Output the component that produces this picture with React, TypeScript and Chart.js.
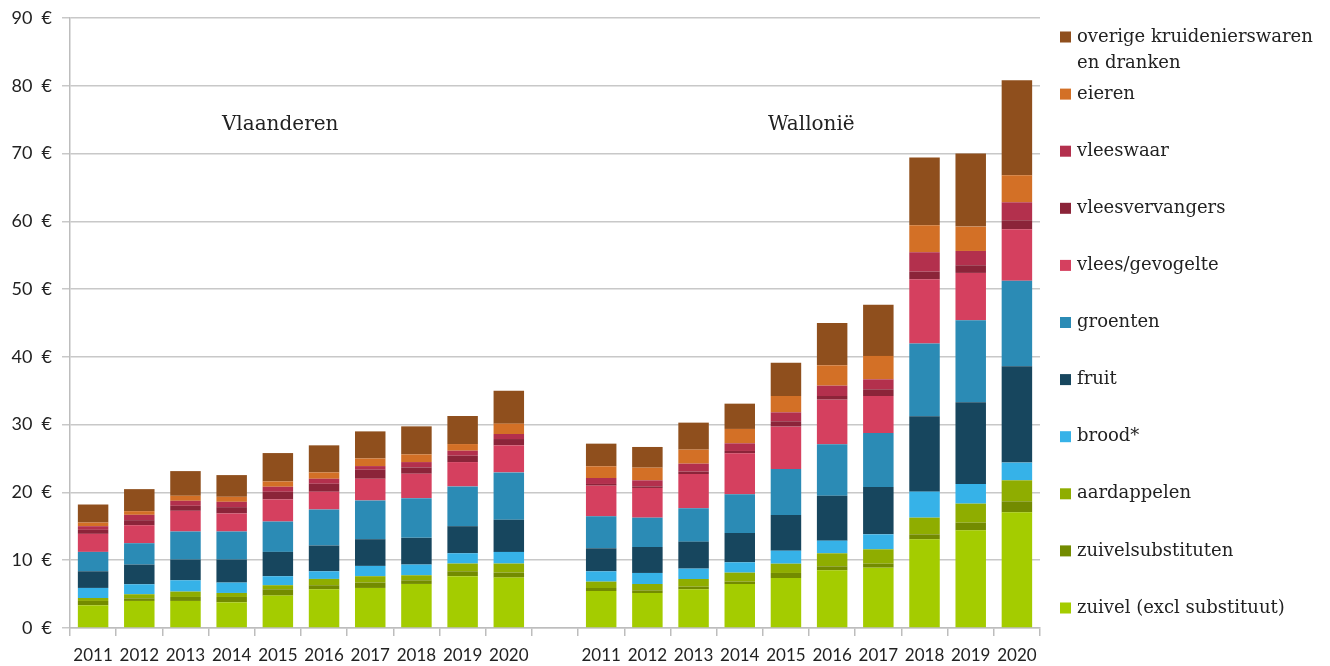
import React, { useEffect, useRef } from "react";
import { Chart, registerables } from "chart.js";

Chart.register(...registerables);

const categories = [
  "2011", "2012", "2013", "2014", "2015", "2016", "2017", "2018", "2019", "2020",
  "",
  "2011", "2012", "2013", "2014", "2015", "2016", "2017", "2018", "2019", "2020",
];

const regionLabels = ["Vlaanderen", "Wallonië"];

const zuivel = [3.35, 3.99, 3.99, 3.79, 4.78, 5.71, 5.91, 6.5, 7.64, 7.44, null, 5.46, 5.16, 5.71, 6.49, 7.38, 8.51, 8.9, 13.08, 14.41, 17.07];
const zuivelsubstituten = [0.64, 0.39, 0.59, 0.79, 0.93, 0.6, 0.79, 0.54, 0.73, 0.74, null, 0.44, 0.4, 0.39, 0.35, 0.74, 0.59, 0.59, 0.74, 1.13, 1.62];
const aardappelen = [0.44, 0.6, 0.79, 0.59, 0.6, 0.93, 0.94, 0.74, 1.14, 1.33, null, 0.94, 0.93, 1.13, 1.33, 1.37, 1.92, 2.12, 2.46, 2.81, 3.1];
const brood = [1.48, 1.47, 1.67, 1.53, 1.33, 1.13, 1.52, 1.58, 1.52, 1.72, null, 1.52, 1.63, 1.53, 1.52, 1.92, 1.87, 2.21, 3.84, 2.9, 2.61];
const fruit = [2.46, 2.91, 3.06, 3.4, 3.59, 3.8, 3.94, 3.94, 3.99, 4.73, null, 3.4, 3.83, 3.98, 4.33, 5.26, 6.64, 6.99, 11.11, 12.05, 14.21];
const groenten = [2.86, 3.15, 4.14, 4.14, 4.48, 5.32, 5.72, 5.86, 5.87, 7.0, null, 4.72, 4.33, 4.92, 5.7, 6.79, 7.57, 7.96, 10.73, 12.1, 12.64];
const vleesGevogelte = [2.66, 2.66, 3.05, 2.66, 3.26, 2.61, 3.2, 3.6, 3.59, 3.99, null, 4.52, 4.38, 5.06, 6.05, 6.25, 6.59, 5.46, 9.49, 6.99, 7.58];
const vleesvervangers = [0.59, 0.74, 0.74, 0.93, 1.13, 1.18, 1.33, 0.93, 0.94, 0.93, null, 0.25, 0.24, 0.35, 0.35, 0.79, 0.54, 0.99, 1.13, 1.13, 1.33];
const vleeswaar = [0.54, 0.79, 0.74, 0.79, 0.74, 0.74, 0.54, 0.79, 0.74, 0.74, null, 0.88, 0.89, 1.18, 1.13, 1.32, 1.53, 1.47, 2.86, 2.11, 2.65];
const eieren = [0.54, 0.54, 0.74, 0.74, 0.79, 0.94, 1.13, 1.14, 0.98, 1.53, null, 1.73, 1.87, 2.07, 2.12, 2.41, 3.0, 3.45, 3.98, 3.59, 3.99];
const overige = [2.66, 3.25, 3.64, 3.2, 4.18, 3.99, 3.99, 4.13, 4.14, 4.87, null, 3.34, 3.05, 3.98, 3.73, 4.92, 6.25, 7.57, 9.98, 10.77, 14.0];

const yTicks = [0, 10, 20, 30, 40, 50, 60, 70, 80, 90];

const seriesDefs = [
  { label: ["zuivel (excl substituut)"], data: zuivel, color: "#a4cc00" },
  { label: ["zuivelsubstituten"], data: zuivelsubstituten, color: "#738b00" },
  { label: ["aardappelen"], data: aardappelen, color: "#8fad00" },
  { label: ["brood*"], data: brood, color: "#36b2e8" },
  { label: ["fruit"], data: fruit, color: "#17465e" },
  { label: ["groenten"], data: groenten, color: "#2b8bb5" },
  { label: ["vlees/gevogelte"], data: vleesGevogelte, color: "#d5405f" },
  { label: ["vleesvervangers"], data: vleesvervangers, color: "#8b2439" },
  { label: ["vleeswaar"], data: vleeswaar, color: "#b3304d" },
  { label: ["eieren"], data: eieren, color: "#d37026" },
  { label: ["overige kruidenierswaren", "en dranken"], data: overige, color: "#8f4f1d" },
];

const SERIF = "'DejaVu Serif', serif";
const SANS = "Lato, 'Open Sans', sans-serif";

const legendPlugin = {
  id: "sideLegend",
  afterDraw(chart: any) {
    const ctx = chart.ctx;
    ctx.save();
    const x0 = 1060;
    const top = 37;
    const step = 57.1;
    const items = [...seriesDefs].reverse();
    ctx.font = `18px ${SERIF}`;
    ctx.textBaseline = "middle";
    ctx.textAlign = "left";
    items.forEach((it, i) => {
      const cy = top + i * step;
      ctx.fillStyle = it.color;
      ctx.fillRect(x0, cy - 5.5, 11, 11);
      ctx.fillStyle = "#222";
      it.label.forEach((ln, j) => {
        ctx.fillText(ln, x0 + 17, cy + j * 26);
      });
    });
    ctx.restore();
  },
};

const regionPlugin = {
  id: "regionLabels",
  afterDatasetsDraw(chart: any) {
    const ctx = chart.ctx;
    const xs = chart.scales.x;
    const ys = chart.scales.y;
    ctx.save();
    ctx.font = `20px ${SERIF}`;
    ctx.fillStyle = "#222";
    ctx.textAlign = "center";
    ctx.textBaseline = "middle";
    const pos = [4.05, 15.55];
    regionLabels.forEach((t, i) => {
      const x = xs.getPixelForValue(pos[i]);
      ctx.fillText(t, x, ys.getPixelForValue(74.3));
    });
    ctx.restore();
  },
};

export default function App() {
  const ref = useRef<HTMLCanvasElement>(null);
  useEffect(() => {
    if (!ref.current) return;
    const chart = new Chart(ref.current, {
      type: "bar",
      data: {
        labels: categories,
        datasets: seriesDefs.map((s) => ({
          label: s.label.join(" "),
          data: s.data as any,
          backgroundColor: s.color,
          borderWidth: 0,
          barPercentage: 0.66,
          categoryPercentage: 1,
        })),
      },
      options: {
        animation: false,
        responsive: false,
        maintainAspectRatio: false,
        layout: { padding: { left: 0, top: 18, right: 290, bottom: 0 } },
        plugins: {
          legend: { display: false },
          tooltip: { enabled: false },
        },
        scales: {
          x: {
            stacked: true,
            grid: {
              offset: true,
              drawOnChartArea: false,
              drawTicks: true,
              tickLength: 8,
              color: "#bdbdbd",
              lineWidth: 1.5,
            },
            border: { color: "#bdbdbd", width: 1.5 },
            ticks: {
              font: { family: SANS, size: 17 },
              color: "#222",
              padding: 9,
              maxRotation: 0,
              autoSkip: false,
            },
            afterFit(scale: any) {
              scale.height = 38;
              scale.paddingLeft = 0;
              scale.paddingRight = 0;
            },
          },
          y: {
            stacked: true,
            min: 0,
            max: 90,
            afterBuildTicks(scale: any) {
              scale.ticks = yTicks.map((v) => ({ value: v }));
            },
            grid: {
              color: "#c8c8c8",
              lineWidth: 1.5,
              tickLength: 8,
            },
            border: { color: "#bdbdbd", width: 1.5 },
            ticks: {
              font: { family: SANS, size: 18 },
              color: "#222",
              padding: 10,
              callback: (v: any) => `${v}  €`,
            },
            afterFit(scale: any) {
              scale.width = 70;
              scale.paddingTop = 0;
              scale.paddingBottom = 0;
            },
          },
        },
      },
      plugins: [legendPlugin, regionPlugin],
    });
    return () => chart.destroy();
  }, []);
  return (
    <div style={{ position: "fixed", left: 0, top: 0, width: 1330, height: 666, background: "#fff" }}>
      <canvas ref={ref} width={1330} height={666} style={{ width: 1330, height: 666, display: "block" }} />
    </div>
  );
}
